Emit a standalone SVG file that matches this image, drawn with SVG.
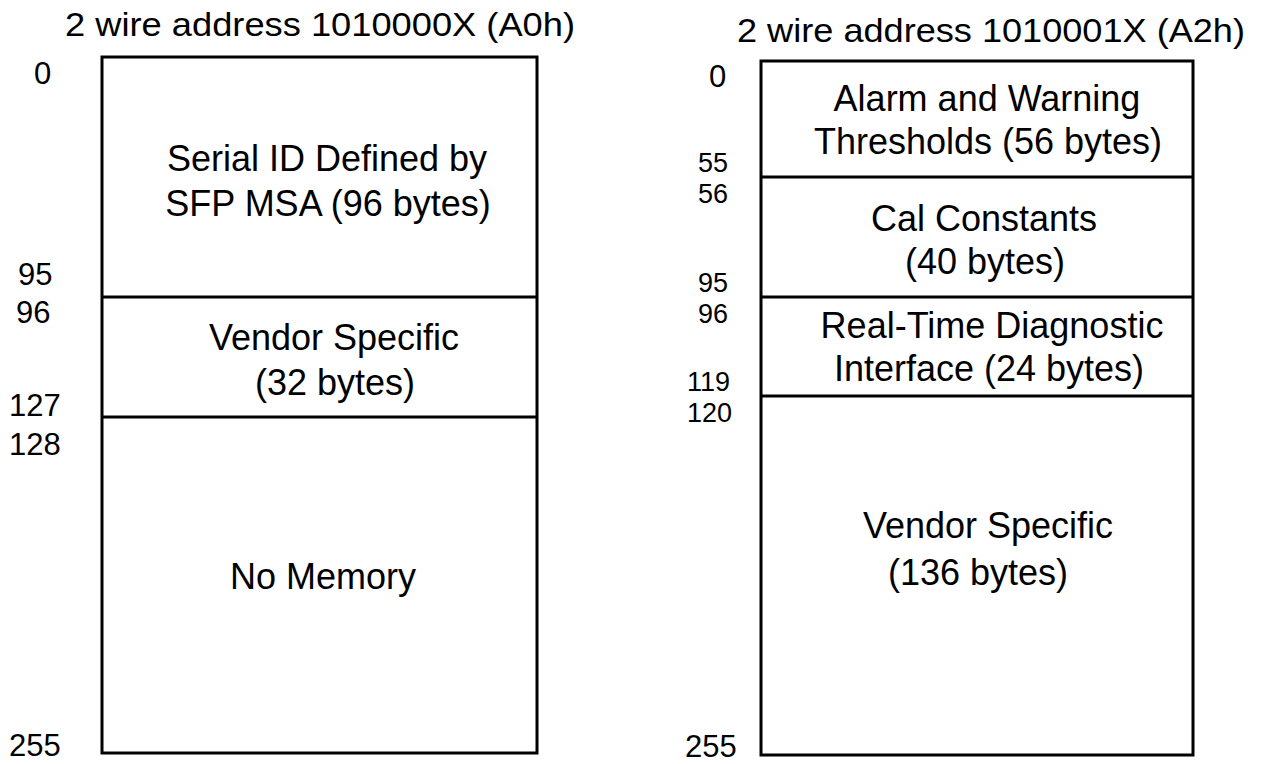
<svg xmlns="http://www.w3.org/2000/svg" width="1263" height="764" viewBox="0 0 1263 764">
<style>
text{font-family:"Liberation Sans",Arial,sans-serif;fill:#000}
.t{font-size:34px}
.n{font-size:31px}
.s{font-size:27px}
.b{font-size:36px;text-anchor:middle}
.box{fill:#fff;stroke:#000;stroke-width:3}
.div{stroke:#000;stroke-width:3}
</style>
<rect width="1263" height="764" fill="#fff"/>
<text class="t" x="65" y="36" textLength="510" lengthAdjust="spacingAndGlyphs">2 wire address 1010000X (A0h)</text>
<text class="t" x="737" y="42" textLength="508" lengthAdjust="spacingAndGlyphs">2 wire address 1010001X (A2h)</text>
<g id="memA0">
<rect class="box" x="102" y="57" width="435" height="696"/>
</g>
<g id="memA2">
<rect class="box" x="761" y="61" width="432" height="694"/>
</g>
<g id="dividers">
<line class="div" x1="102" y1="297" x2="537" y2="297"/>
<line class="div" x1="102" y1="417" x2="537" y2="417"/>
<line class="div" x1="761" y1="177" x2="1193" y2="177"/>
<line class="div" x1="761" y1="297" x2="1193" y2="297"/>
<line class="div" x1="761" y1="396" x2="1193" y2="396"/>
</g>
<g id="a0-serial"><text class="b" x="327" y="171">Serial ID Defined by</text><text class="b" x="328" y="216">SFP MSA (96 bytes)</text></g>
<g id="a0-vendor"><text class="b" x="334" y="350">Vendor Specific</text><text class="b" x="335" y="395">(32 bytes)</text></g>
<g id="a0-nomem"><text class="b" x="323" y="589">No Memory</text></g>
<g id="a2-alarm"><text class="b" x="987" y="111">Alarm and Warning</text><text class="b" x="988" y="154">Thresholds (56 bytes)</text></g>
<g id="a2-cal"><text class="b" x="984" y="231">Cal Constants</text><text class="b" x="985" y="274">(40 bytes)</text></g>
<g id="a2-rtd"><text class="b" x="992" y="338">Real-Time Diagnostic</text><text class="b" x="989" y="381">Interface (24 bytes)</text></g>
<g id="a2-vendor"><text class="b" x="988" y="538">Vendor Specific</text><text class="b" x="978" y="585">(136 bytes)</text></g>
<g id="labels-a0">
<text class="n" x="34" y="84">0</text>
<text class="n" x="18" y="285">95</text>
<text class="n" x="16" y="323">96</text>
<text class="n" x="9" y="416">127</text>
<text class="n" x="9" y="455">128</text>
<text class="n" x="9" y="756">255</text>
</g>
<g id="labels-a2">
<text class="n" x="709" y="87">0</text>
<text class="s" x="698" y="172">55</text>
<text class="s" x="698" y="203">56</text>
<text class="s" x="698" y="292">95</text>
<text class="s" x="698" y="323">96</text>
<text class="s" x="687" y="391">119</text>
<text class="s" x="687" y="422">120</text>
<text class="n" x="685" y="757">255</text>
</g>
</svg>
